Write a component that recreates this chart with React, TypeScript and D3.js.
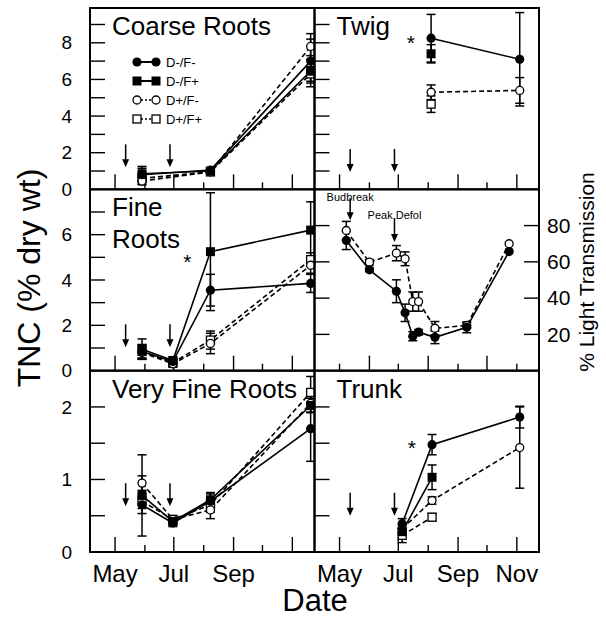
import * as d3 from "d3";

const parseDay = d3.timeParse("%Y-%m-%d");
const day = (s: string) => parseDay("2001-" + s) as Date;

const FONT = "'Liberation Sans', Arial, Helvetica, sans-serif";

// treatments: filled circle, filled square, open circle, open square
const treatments = ["D-/F-", "D-/F+", "D+/F-", "D+/F+"];

// --- Coarse roots ---
const coarseDates = ["05-29", "08-08", "11-20"];
const coarseMeans = [
  [0.8, 1.05, 7.0],
  [0.85, 1.0, 6.45],
  [0.45, 0.95, 7.8],
  [0.6, 0.95, 6.3],
];
const coarseErrs = [
  [0.35, 0.12, 1.2],
  [0.4, 0.12, 0.85],
  [0.2, 0.1, 0.7],
  [0.3, 0.1, 0.4],
];

// --- Twig ---
const twigDates = ["08-04", "11-04"];
const twigMeans = [
  [8.25, 7.1],
  [7.4, null],
  [5.3, 5.4],
  [4.65, null],
];
const twigErrs = [
  [1.3, 2.55],
  [0.5, 0],
  [0.4, 0.7],
  [0.45, 0],
];

// --- Fine roots ---
const fineDates = ["05-29", "06-30", "08-08", "11-20"];
const fineMeans = [
  [0.85, 0.4, 3.55, 3.85],
  [0.95, 0.45, 5.25, 6.2],
  [0.8, 0.3, 1.2, 4.65],
  [0.85, 0.35, 1.35, 4.9],
];
const fineErrs = [
  [0.3, 0.1, 0.7, 0.4],
  [0.45, 0.15, 2.6, 1.25],
  [0.3, 0.15, 0.45, 0.35],
  [0.3, 0.15, 0.4, 0.3],
];

// --- Very fine roots ---
const vfineDates = ["05-29", "06-30", "08-08", "11-20"];
const vfineMeans = [
  [0.65, 0.4, 0.7, 1.7],
  [0.78, 0.42, 0.72, 2.02],
  [0.95, 0.45, 0.58, 2.05],
  [0.7, 0.45, 0.65, 2.2],
];
const vfineErrs = [
  [0.12, 0.05, 0.1, 0.45],
  [0.56, 0.05, 0.1, 0.1],
  [0.1, 0.05, 0.12, 0.12],
  [0.1, 0.05, 0.1, 0.22],
];

// --- Trunk ---
const trunkDates = ["07-05", "08-05", "11-04"];
const trunkMeans = [
  [0.39, 1.48, 1.86],
  [0.28, 1.03, null],
  [0.32, 0.71, 1.44],
  [0.23, 0.48, null],
];
const trunkErrs = [
  [0.07, 0.14, 0.15],
  [0.05, 0.17, 0],
  [0.05, 0.05, 0.56],
  [0.1, 0.05, 0],
];

// --- Light transmission ---
const lightDates = ["05-08", "06-01", "06-29", "07-08", "07-16", "07-22", "08-08", "09-10", "10-24"];
const lightFilled = [71.8, 55.6, 43.8, 31.9, 19.0, 21.2, 18.4, 23.9, 65.7];
const lightFilledErr = [5, 1, 6.3, 4.8, 2.5, 1.5, 3.5, 3, 0];
const lightOpen = [77.3, 59.8, 64.8, 61.7, 38.1, 38.1, 23.4, 24.9, 70.0];
const lightOpenErr = [5, 1.5, 4.2, 3.8, 5.3, 5.3, 3.7, 1.5, 0];

const arrowDates = ["05-12", "06-27"];
const xLabelsLeft = ["May", "Jul", "Sep"];
const xLabelsRight = ["May", "Jul", "Sep", "Nov"];

const colX = [90, 314.5];
const rowY = [8, 189.33, 370.67];
const PW = 224.5;
const PH = 181.33;

const x = d3.scaleTime().domain([day("04-05"), day("11-24")]).range([0, PW]);
const monthTicks = d3.timeMonth.range(day("05-01"), day("11-02"));

type Panel = {
  col: number;
  row: number;
  domain: [number, number];
  step: number;
  labels: number[];
  title: string[];
  dates: string[];
  means: (number | null)[][];
  errs: number[][];
  arrowTip: number;
  star?: [string, number];
  legend?: boolean;
};

const panels: Panel[] = [
  { col: 0, row: 0, domain: [0, 9.9], step: 1, labels: [0, 2, 4, 6, 8], title: ["Coarse Roots"],
    dates: coarseDates, means: coarseMeans, errs: coarseErrs, arrowTip: 1.2, legend: true },
  { col: 1, row: 0, domain: [0, 9.9], step: 1, labels: [], title: ["Twig"],
    dates: twigDates, means: twigMeans, errs: twigErrs, arrowTip: 0.95, star: ["07-14", 8.26] },
  { col: 0, row: 1, domain: [0, 8], step: 1, labels: [0, 2, 4, 6], title: ["Fine", "Roots"],
    dates: fineDates, means: fineMeans, errs: fineErrs, arrowTip: 1.03, star: ["07-15", 5.0] },
  { col: 0, row: 2, domain: [0, 2.5], step: 0.5, labels: [0, 1, 2], title: ["Very Fine Roots"],
    dates: vfineDates, means: vfineMeans, errs: vfineErrs, arrowTip: 0.63 },
  { col: 1, row: 2, domain: [0, 2.5], step: 0.5, labels: [], title: ["Trunk"],
    dates: trunkDates, means: trunkMeans, errs: trunkErrs, arrowTip: 0.5, star: ["07-15", 1.5] },
];

function Marker({ kind, cx, cy }: { kind: number; cx: number; cy: number }) {
  const filled = kind < 2;
  const square = kind % 2 === 1;
  if (square) {
    const s = filled ? 9 : 8;
    return <rect x={cx - s / 2} y={cy - s / 2} width={s} height={s}
      fill={filled ? "#000" : "#fff"} stroke="#000" strokeWidth={filled ? 0 : 1.3} />;
  }
  return <circle cx={cx} cy={cy} r={filled ? 4.6 : 4}
    fill={filled ? "#000" : "#fff"} stroke="#000" strokeWidth={filled ? 0 : 1.3} />;
}

function ErrBar({ cx, y0, y1 }: { cx: number; y0: number; y1: number }) {
  return (
    <g stroke="#000" strokeWidth={1.5}>
      <line x1={cx} x2={cx} y1={y0} y2={y1} />
      <line x1={cx - 4.5} x2={cx + 4.5} y1={y0} y2={y0} />
      <line x1={cx - 4.5} x2={cx + 4.5} y1={y1} y2={y1} />
    </g>
  );
}

function Arrow({ ax, tip, len = 23 }: { ax: number; tip: number; len?: number }) {
  return (
    <g>
      <line x1={ax} x2={ax} y1={tip - len} y2={tip - 6} stroke="#000" strokeWidth={1.5} />
      <path d={`M${ax - 3.5},${tip - 8}L${ax + 3.5},${tip - 8}L${ax},${tip}Z`} fill="#000" />
    </g>
  );
}

function XTicks({ light }: { light?: boolean }) {
  return (
    <g stroke="#000" strokeWidth={1.4}>
      {monthTicks.map((m, i) => {
        const major = light ? m.getMonth() % 2 === 1 : m.getMonth() % 2 === 0;
        const len = major ? 15 : 7;
        return <line key={i} x1={x(m)} x2={x(m)} y1={PH} y2={PH - len} />;
      })}
    </g>
  );
}

function RootPanel({ p }: { p: Panel }) {
  const y = d3.scaleLinear().domain(p.domain).range([PH, 0]);
  const yt = d3.range(p.step, p.domain[1], p.step);
  const line = d3.line<[number, number]>();
  const series = p.means.map((row, i) =>
    row
      .map((v, j) => (v == null ? null : { cx: x(day(p.dates[j])), v, e: p.errs[i][j] }))
      .filter((d): d is { cx: number; v: number; e: number } => d != null)
  );
  return (
    <g transform={`translate(${colX[p.col]},${rowY[p.row]})`}>
      <g stroke="#000" strokeWidth={1.4}>
        {yt.map((t) => <line key={t} x1={0} x2={15} y1={y(t)} y2={y(t)} />)}
      </g>
      <XTicks />
      {p.col === 0 && p.labels.map((t) => (
        <text key={t} x={-18} y={y(t)} dy="0.35em" textAnchor="end" fontSize={19} fontFamily={FONT}>{t}</text>
      ))}
      {p.title.map((s, i) => (
        <text key={s} x={22} y={27 + i * 31.5} fontSize={26} fontFamily={FONT}>{s}</text>
      ))}
      {series.map((pts, i) => (
        <path key={"l" + i} d={line(pts.map((d) => [d.cx, y(d.v)])) ?? ""} fill="none" stroke="#000"
          strokeWidth={1.6} strokeDasharray={i >= 2 ? "5,3" : undefined} />
      ))}
      {series.map((pts, i) => pts.filter((d) => d.e > 0).map((d, j) => (
        <ErrBar key={`e${i}-${j}`} cx={d.cx} y0={y(d.v + d.e)} y1={y(d.v - d.e)} />
      )))}
      {[3, 2, 1, 0].map((i) => series[i].map((d, j) => (
        <Marker key={`m${i}-${j}`} kind={i} cx={d.cx} cy={y(d.v)} />
      )))}
      {arrowDates.map((a) => <Arrow key={a} ax={x(day(a))} tip={y(p.arrowTip)} />)}
      {p.star && (
        <text x={x(day(p.star[0]))} y={y(p.star[1]) + 11.5} textAnchor="middle" fontSize={21} fontFamily={FONT}>*</text>
      )}
      {p.legend && treatments.map((t, i) => {
        const ly = 54 + i * 19;
        return (
          <g key={t}>
            <line x1={47} x2={66} y1={ly} y2={ly} stroke="#000" strokeWidth={i < 2 ? 2 : 1.5}
              strokeDasharray={i < 2 ? undefined : "2,2"} />
            <Marker kind={i} cx={47} cy={ly} />
            <Marker kind={i} cx={66} cy={ly} />
            <text x={76} y={ly} dy="0.36em" fontSize={13} fontFamily={FONT}>{t}</text>
          </g>
        );
      })}
      {p.row === 2 && (p.col === 0 ? xLabelsLeft : xLabelsRight).map((m, i) => (
        <text key={m} x={x(monthTicks[i * 2])} y={PH + 30} textAnchor="middle" fontSize={24} fontFamily={FONT}>{m}</text>
      ))}
    </g>
  );
}

function LightPanel() {
  const y = d3.scaleLinear().domain([0, 100]).range([PH, 0]);
  const yt = [20, 40, 60, 80];
  const line = d3.line<[number, number]>();
  const mk = (vals: number[], errs: number[]) =>
    vals.map((v, j) => ({ cx: x(day(lightDates[j])), v, e: errs[j] }));
  const filled = mk(lightFilled, lightFilledErr);
  const open = mk(lightOpen, lightOpenErr);
  const bud = x(day(arrowDates[0]));
  const defol = x(day(arrowDates[1]));
  return (
    <g transform={`translate(${colX[1]},${rowY[1]})`}>
      <g stroke="#000" strokeWidth={1.4}>
        {yt.map((t) => <line key={"a" + t} x1={0} x2={15} y1={y(t)} y2={y(t)} />)}
        {yt.map((t) => <line key={"b" + t} x1={PW} x2={PW - 15} y1={y(t)} y2={y(t)} />)}
      </g>
      <XTicks light />
      {yt.map((t) => (
        <text key={t} x={PW + 8} y={y(t)} dy="0.35em" fontSize={21} fontFamily={FONT}>{t}</text>
      ))}
      <path d={line(open.map((d) => [d.cx, y(d.v)])) ?? ""} fill="none" stroke="#000" strokeWidth={1.6} strokeDasharray="5,3" />
      <path d={line(filled.map((d) => [d.cx, y(d.v)])) ?? ""} fill="none" stroke="#000" strokeWidth={1.6} />
      {[...open, ...filled].filter((d) => d.e > 0).map((d, i) => (
        <ErrBar key={i} cx={d.cx} y0={y(d.v + d.e)} y1={y(d.v - d.e)} />
      ))}
      {open.map((d, i) => <Marker key={"o" + i} kind={2} cx={d.cx} cy={y(d.v)} />)}
      {filled.map((d, i) => <Marker key={"f" + i} kind={0} cx={d.cx} cy={y(d.v)} />)}
      <text x={bud} y={11.5} textAnchor="middle" fontSize={11} fontFamily={FONT}>Budbreak</text>
      <Arrow ax={bud} tip={y(83)} len={22} />
      <text x={defol} y={30} textAnchor="middle" fontSize={11} fontFamily={FONT}>Peak Defol</text>
      <Arrow ax={defol} tip={y(71)} len={24} />
    </g>
  );
}

export default function App() {
  return (
    <svg width={606} height={618} style={{ position: "absolute", left: 0, top: 0, background: "#fff" }}>
      <rect width={606} height={618} fill="#fff" />
      {panels.map((p) => <RootPanel key={p.title.join(" ")} p={p} />)}
      <LightPanel />
      <g fill="none" stroke="#000" strokeWidth={2}>
        {rowY.map((ry) => colX.map((cx) => (
          <rect key={`${cx}-${ry}`} x={cx} y={ry} width={PW} height={PH} />
        )))}
      </g>
      <text transform="translate(40,278) rotate(-90)" textAnchor="middle" fontSize={32} fontFamily={FONT}>TNC (% dry wt)</text>
      <text transform="translate(594,272) rotate(-90)" textAnchor="middle" fontSize={21} fontFamily={FONT}>% Light Transmission</text>
      <text x={315} y={611} textAnchor="middle" fontSize={31} fontFamily={FONT}>Date</text>
    </svg>
  );
}
